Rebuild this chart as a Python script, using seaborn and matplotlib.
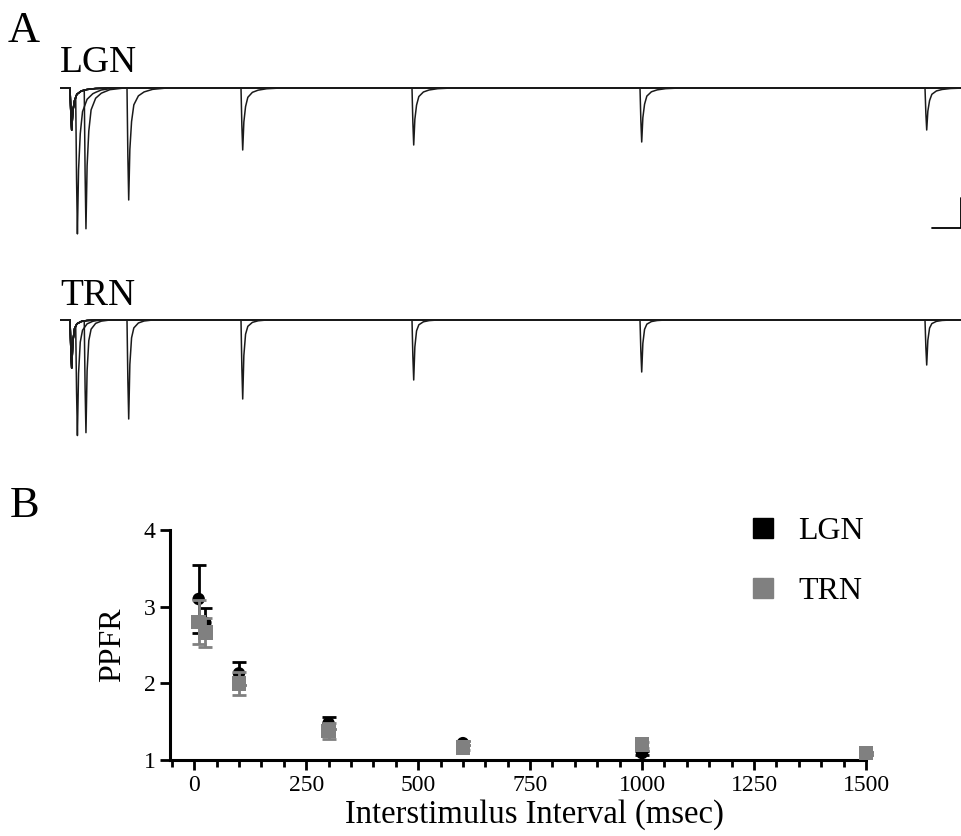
import numpy as np
import pandas as pd
import matplotlib
matplotlib.use("Agg")
import matplotlib.pyplot as plt
from matplotlib.lines import Line2D
from matplotlib.ticker import MultipleLocator
import seaborn as sns

# ---- panel B data ----
isi_ms = [10, 25, 100, 300, 600, 1000, 1500]
lgn_ppfr = [3.10, 2.79, 2.13, 1.48, 1.22, 1.09, 1.08]
lgn_sem = [0.44, 0.19, 0.15, 0.08, 0.03, 0.03, 0.02]
trn_ppfr = [2.80, 2.66, 2.00, 1.38, 1.16, 1.20, 1.09]
trn_sem = [0.29, 0.19, 0.15, 0.10, 0.03, 0.04, 0.02]

# ---- panel A traces: first / second EPSC amplitudes (arbitrary units) ----
lgn_amp1 = 42
lgn_amp2 = [140, 139, 112, 62, 57, 54, 42]
trn_amp1 = 48
trn_amp2 = [112, 112, 99, 79, 60, 52, 45]

# EPSC shape (ms after stimulus, fraction of peak)
epsc_offset_ms = [0, 1.5, 3, 5, 8, 12, 20, 30, 45, 70]
lgn_shape = [0, 0.6, 1.0, 0.55, 0.3, 0.15, 0.07, 0.035, 0.012, 0]
trn_shape = [0, 0.6, 1.0, 0.45, 0.18, 0.08, 0.03, 0.01, 0.0, 0]

scale_bar_ms = 50
scale_bar_amp = 30

W, H = 962, 836


def px_rect(x0, y0, x1, y1):
    return [x0 / W, 1 - y1 / H, (x1 - x0) / W, (y1 - y0) / H]


def build_traces(amp1, amp2, shape, t0, t1):
    offs = np.array(epsc_offset_ms)
    rows = []
    for isi, a2 in zip(isi_ms, amp2):
        t = np.unique(np.concatenate([[t0, t1], offs, isi + offs]))
        v = -(amp1 * np.interp(t, offs, shape, left=0, right=0)
              + a2 * np.interp(t - isi, offs, shape, left=0, right=0))
        rows.append(pd.DataFrame({"t": t, "v": v, "sweep": isi}))
    return pd.concat(rows, ignore_index=True)


sns.set_theme(style="ticks")
plt.rcParams["font.family"] = ["Liberation Serif", "DejaVu Serif"]
plt.rcParams["text.color"] = "black"
plt.rcParams["axes.labelcolor"] = "black"

fig = plt.figure(figsize=(W / 100, H / 100), dpi=100)

px_per_ms = 0.57
t_left = (60 - 70) / px_per_ms
t_right = (962 - 70) / px_per_ms

# LGN traces
ax1 = fig.add_axes(px_rect(60, 78, 962, 248))
lgn_df = build_traces(lgn_amp1, lgn_amp2, lgn_shape, t_left, t_right)
sns.lineplot(data=lgn_df, x="t", y="v", units="sweep", estimator=None, sort=False,
             color="#1a1a1a", lw=1.1, ax=ax1, legend=False)
ax1.set_xlim(t_left, t_right)
ax1.set_ylim(-160, 10)
sb_t = (961 - 70) / px_per_ms
ax1.plot([sb_t - scale_bar_ms, sb_t, sb_t], [-140, -140, -140 + scale_bar_amp],
         color="black", lw=1.3, clip_on=False)
ax1.axis("off")

# TRN traces
ax2 = fig.add_axes(px_rect(60, 310, 962, 450))
trn_df = build_traces(trn_amp1, trn_amp2, trn_shape, t_left, t_right)
sns.lineplot(data=trn_df, x="t", y="v", units="sweep", estimator=None, sort=False,
             color="#1a1a1a", lw=1.1, ax=ax2, legend=False)
ax2.set_xlim(t_left, t_right)
ax2.set_ylim(-130, 10)
ax2.axis("off")

fig.text(8 / W, 1 - 42 / H, "A", fontsize=32, va="baseline")
fig.text(60 / W, 1 - 72 / H, "LGN", fontsize=27, va="baseline")
fig.text(60 / W, 1 - 305 / H, "TRN", fontsize=27, va="baseline")
fig.text(10 / W, 1 - 517 / H, "B", fontsize=32, va="baseline")

# Panel B
ax3 = fig.add_axes(px_rect(170, 530, 866, 760))
ppfr = pd.DataFrame({
    "isi": isi_ms * 2,
    "ppfr": lgn_ppfr + trn_ppfr,
    "cell": ["LGN"] * len(isi_ms) + ["TRN"] * len(isi_ms),
})
ax3.errorbar(isi_ms, lgn_ppfr, yerr=lgn_sem, fmt="none", ecolor="black",
             elinewidth=2, capsize=5, capthick=2, zorder=2, clip_on=False)
sns.scatterplot(data=ppfr[ppfr.cell == "LGN"], x="isi", y="ppfr", color="black",
                marker="o", s=80, edgecolor="none", ax=ax3, zorder=3,
                legend=False, clip_on=False)
ax3.errorbar(isi_ms, trn_ppfr, yerr=trn_sem, fmt="none", ecolor="#808080",
             elinewidth=2, capsize=5, capthick=2, zorder=4, clip_on=False)
sns.scatterplot(data=ppfr[ppfr.cell == "TRN"], x="isi", y="ppfr", color="#808080",
                marker="s", s=110, edgecolor="none", ax=ax3, zorder=5,
                legend=False, clip_on=False)

ax3.set_xlim(-54, 1500)
ax3.set_ylim(1, 4)
ax3.set_xticks([0, 250, 500, 750, 1000, 1250, 1500])
ax3.xaxis.set_minor_locator(MultipleLocator(50))
ax3.set_yticks([1, 2, 3, 4])
ax3.tick_params(axis="both", which="major", labelsize=17, width=2, length=7,
                color="black", labelcolor="black")
ax3.tick_params(axis="x", which="minor", width=2, length=5, color="black")
for side in ["left", "bottom"]:
    ax3.spines[side].set_linewidth(2.2)
    ax3.spines[side].set_color("black")
sns.despine(ax=ax3)
ax3.set_xlabel("Interstimulus Interval (msec)", fontsize=23.5)
ax3.xaxis.set_label_coords(0.523, -0.172)
ax3.set_ylabel("PPFR", fontsize=23, labelpad=12)

handles = [
    Line2D([], [], marker="s", ls="none", color="black", markersize=15),
    Line2D([], [], marker="s", ls="none", color="#808080", markersize=15),
]
fig.legend(handles, ["LGN", "TRN"], loc="upper left",
           bbox_to_anchor=(747 / W, 1 - 517 / H), frameon=False,
           fontsize=23, labelspacing=0.95, handlelength=1.0,
           handletextpad=0.6, borderpad=0, borderaxespad=0)

fig.savefig("out.png", dpi=100)
